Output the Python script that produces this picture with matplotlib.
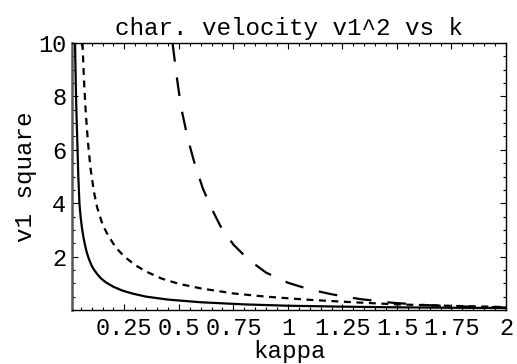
import numpy as np
import matplotlib
matplotlib.use("Agg")
import matplotlib.pyplot as plt
from matplotlib.ticker import MultipleLocator, FixedLocator

# characteristic velocity v1^2 against kappa, three parameter sets
solid_k = [0.024, 0.027, 0.030, 0.034, 0.039, 0.044, 0.050, 0.056, 0.063, 0.070,
           0.078, 0.087, 0.098, 0.11, 0.125, 0.14, 0.155, 0.17, 0.20, 0.24,
           0.29, 0.35, 0.45, 0.60, 0.80, 1.00, 1.25, 1.50, 1.75, 2.00]
solid_v = [10.0, 8.6, 7.5, 6.4, 5.0, 4.0, 3.45, 3.05, 2.7, 2.42,
           2.15, 1.92, 1.70, 1.52, 1.35, 1.21, 1.10, 1.01, 0.87, 0.73,
           0.61, 0.50, 0.39, 0.29, 0.21, 0.16, 0.125, 0.10, 0.085, 0.075]

dotted_k = [0.058, 0.065, 0.073, 0.083, 0.095, 0.11, 0.125, 0.15, 0.175, 0.21,
            0.25, 0.30, 0.35, 0.42, 0.50, 0.60, 0.75, 0.90, 1.10, 1.30,
            1.50, 1.75, 2.00]
dotted_v = [10.0, 8.6, 7.4, 6.3, 5.3, 4.45, 3.85, 3.2, 2.8, 2.35,
            2.0, 1.68, 1.44, 1.18, 0.98, 0.81, 0.62, 0.50, 0.38, 0.29,
            0.21, 0.155, 0.11]

dashed_k = [0.471, 0.49, 0.51, 0.54, 0.57, 0.61, 0.65, 0.69, 0.75, 0.82,
            0.90, 1.00, 1.10, 1.20, 1.33, 1.48, 1.64, 1.80, 2.00]
dashed_v = [10.0, 8.75, 7.6, 6.45, 5.55, 4.55, 3.8, 3.15, 2.45, 1.88,
            1.40, 1.02, 0.77, 0.59, 0.41, 0.27, 0.18, 0.13, 0.09]

xticks = [0.25, 0.5, 0.75, 1.0, 1.25, 1.5, 1.75, 2.0]
xticklabels = ["0.25", "0.5", "0.75", "1", "1.25", "1.5", "1.75", "2"]
yticks = [2, 4, 6, 8, 10]

plt.rcParams["font.family"] = ["Liberation Mono", "DejaVu Sans Mono"]
plt.rcParams["lines.scale_dashes"] = False

fig = plt.figure(figsize=(5.17, 3.64), dpi=100)
ax = fig.add_axes([72 / 517, 1 - 310 / 364, (506 - 72) / 517, (310 - 43) / 364])

ax.plot(solid_k, solid_v, color="black", lw=1.6)
ax.plot(dotted_k, dotted_v, color="black", lw=1.6,
        linestyle=(0, (5, 4)), dash_capstyle="butt")
ax.plot(dashed_k, dashed_v, color="black", lw=1.6,
        linestyle=(0, (13.5, 11.5)), dash_capstyle="butt")

ax.set_xlim(0.01, 2.0)
ax.set_ylim(0, 10)

ax.xaxis.set_major_locator(FixedLocator(xticks))
ax.set_xticklabels(xticklabels)
ax.xaxis.set_minor_locator(MultipleLocator(0.05))
ax.yaxis.set_major_locator(FixedLocator(yticks))
ax.yaxis.set_minor_locator(MultipleLocator(0.5))

ax.tick_params(which="both", direction="in", top=True, right=True,
               labelsize=17, width=0.8, colors="black")
ax.tick_params(which="major", length=4.5, pad=5)
ax.tick_params(which="minor", length=2.2)
ax.tick_params(axis="y", pad=4)

for side in ["top", "right", "bottom"]:
    ax.spines[side].set_linewidth(1.0)
ax.spines["left"].set_color("#555555")
ax.spines["left"].set_linewidth(1.8)

ax.set_title("char. velocity v1^2 vs k", fontsize=17.5, pad=6)
ax.set_xlabel("kappa", fontsize=17.5, labelpad=0)
ax.set_ylabel("v1 square", fontsize=17.5, labelpad=1)

fig.savefig("out.png", dpi=100)
